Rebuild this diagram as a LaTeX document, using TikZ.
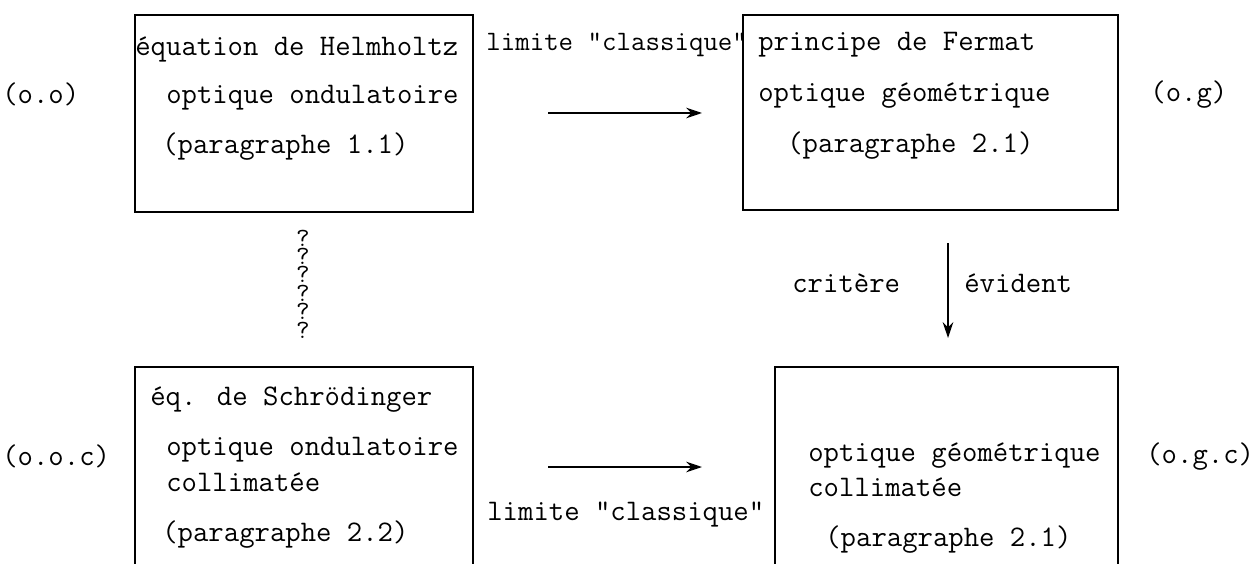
\documentclass[tikz,border=0pt]{standalone}
\usepackage{fontspec}
\usetikzlibrary{arrows.meta}

\tikzset{
  txt/.style={anchor=mid west, inner sep=0pt, font=\ttfamily\fontsize{17}{20}\selectfont},
  limtxt/.style={txt, font=\ttfamily\fontsize{16}{19}\selectfont},
  qstack/.style={anchor=center, inner sep=0pt, align=center, font=\ttfamily\fontsize{15}{10.5}\selectfont},
  boxline/.style={line width=0.9pt},
  arr/.style={line width=1.2pt, -{Stealth[length=9pt,width=6pt]}},
}

\begin{document}
\begin{tikzpicture}[x=0.02cm, y=-0.02cm]
  \useasboundingbox (0,0) rectangle (1257,564);

  %%%%% boxes (the lower two run off the page) %%%%%
  \draw[boxline] (135,15) rectangle (473,212);
  \draw[boxline] (743,15) rectangle (1118,210);
  \draw[boxline] (135,564) -- (135,367) -- (473,367) -- (473,564);
  \draw[boxline] (775,564) -- (775,367) -- (1118,367) -- (1118,564);

  %%%%% wave optics %%%%%
  \node[txt] (helm) at (135,52) {équation de Helmholtz};
  \node[txt] (ondA) at (166,100) {optique ondulatoire};
  \node[txt] (parA) at (162,150) {(paragraphe 1.1)};
  \node[txt] (oo) at (2,100) {(o.o)};

  %%%%% geometrical optics %%%%%
  \node[txt] (fermat) at (758,47) {principe de Fermat};
  \node[txt] (geoA) at (758,98) {optique géométrique};
  \node[txt] (parB) at (787,149) {(paragraphe 2.1)};
  \node[txt] (og) at (1150,98) {(o.g)};

  %%%%% collimated wave optics %%%%%
  \node[txt] (schr) at (150,402) {éq. de Schrödinger};
  \node[txt] (ondB) at (166,452) {optique ondulatoire};
  \node[txt] (collA) at (166,488) {collimatée};
  \node[txt] (parC) at (162,538) {(paragraphe 2.2)};
  \node[txt] (ooc) at (2,462) {(o.o.c)};

  %%%%% collimated geometrical optics %%%%%
  \node[txt] (geoB) at (808,458) {optique géométrique};
  \node[txt] (collB) at (808,493) {collimatée};
  \node[txt] (parD) at (825,543) {(paragraphe 2.1)};
  \node[txt] (ogc) at (1146,460) {(o.g.c)};

  %%%%% classical limit, top and bottom %%%%%
  \coordinate (limA1) at (548,113);
  \coordinate (limA2) at (702,113);
  \draw[arr] (limA1) -- (limA2);
  \node[limtxt] (limA) at (486,47) {limite "classique"};

  \coordinate (limB1) at (548,467);
  \coordinate (limB2) at (702,467);
  \draw[arr] (limB1) -- (limB2);
  \node[txt] (limB) at (487,517) {limite "classique"};

  %%%%% criterion arrow %%%%%
  \coordinate (crit1) at (948,243);
  \coordinate (crit2) at (948,338);
  \draw[arr] (crit1) -- (crit2);
  \node[txt] (critere) at (792,289) {critère};
  \node[txt] (evident) at (964,289) {évident};

  %%%%% open question between the two wave pictures %%%%%
  \node[qstack] (qs) at (303,284) {?\\?\\?\\?\\?\\?};
\end{tikzpicture}
\end{document}
